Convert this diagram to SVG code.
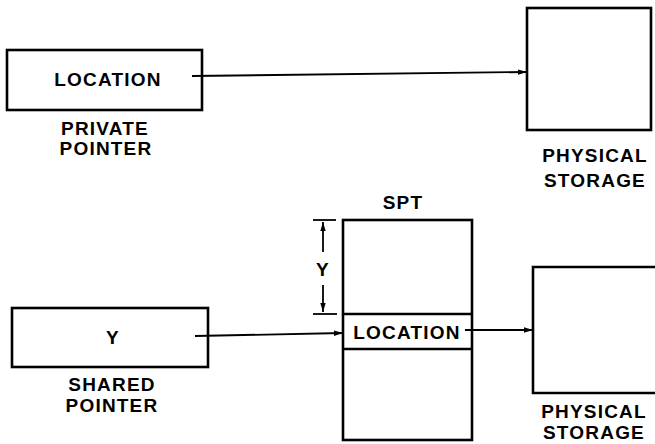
<svg xmlns="http://www.w3.org/2000/svg" width="655" height="444" viewBox="0 0 655 444">
<style>
.box{fill:none;stroke:#000;stroke-width:2.6}
.ln{fill:none;stroke:#000;stroke-width:1.8}
text{font-family:"Liberation Sans",Arial,sans-serif;font-size:19px;font-weight:bold;fill:#000;text-anchor:middle;letter-spacing:1.2px}
</style>
<defs>
<marker id="ah2" viewBox="0 0 10 10" refX="10" refY="5" markerWidth="9" markerHeight="9" orient="auto" markerUnits="userSpaceOnUse">
<path d="M0,2 L10,5 L0,8 Z" fill="#000"/>
</marker>
</defs>
<rect width="655" height="444" fill="#fff"/>
<g id="private-pointer">
<rect class="box" x="7" y="50" width="195" height="60"/>
<text x="108" y="86">LOCATION</text>
<text x="105" y="135">PRIVATE</text>
<text x="106" y="155">POINTER</text>
</g>
<g id="physical-storage-1">
<rect class="box" x="527" y="8" width="124" height="122"/>
<text x="595" y="162">PHYSICAL</text>
<text x="595" y="187">STORAGE</text>
</g>
<g id="shared-pointer">
<rect class="box" x="12" y="308" width="196" height="59"/>
<text x="113" y="344">Y</text>
<text x="112" y="391">SHARED</text>
<text x="112" y="412">POINTER</text>
</g>
<g id="spt">
<text x="403" y="209">SPT</text>
<rect class="box" x="343" y="220" width="129" height="220"/>
<line class="box" x1="343" y1="314" x2="472" y2="314"/>
<line class="box" x1="343" y1="349" x2="472" y2="349"/>
<text x="407" y="339">LOCATION</text>
</g>
<g id="dimension">
<line class="ln" x1="313" y1="220" x2="336" y2="220"/>
<line class="ln" x1="313" y1="314" x2="337" y2="314"/>
<line class="ln" x1="323" y1="252" x2="323" y2="222" marker-end="url(#ah2)"/>
<line class="ln" x1="323" y1="285" x2="323" y2="312" marker-end="url(#ah2)"/>
<text x="323" y="276">Y</text>
</g>
<g id="physical-storage-2">
<path class="box" d="M657,267 L533,267 L533,393 L657,393"/>
<text x="594" y="418">PHYSICAL</text>
<text x="594" y="439">STORAGE</text>
</g>
<g id="connectors">
<line class="ln" x1="192" y1="76" x2="527" y2="72" marker-end="url(#ah2)"/>
<line class="ln" x1="195" y1="336" x2="343" y2="333" marker-end="url(#ah2)"/>
<line class="ln" x1="465" y1="330" x2="533" y2="330" marker-end="url(#ah2)"/>
</g>
</svg>
